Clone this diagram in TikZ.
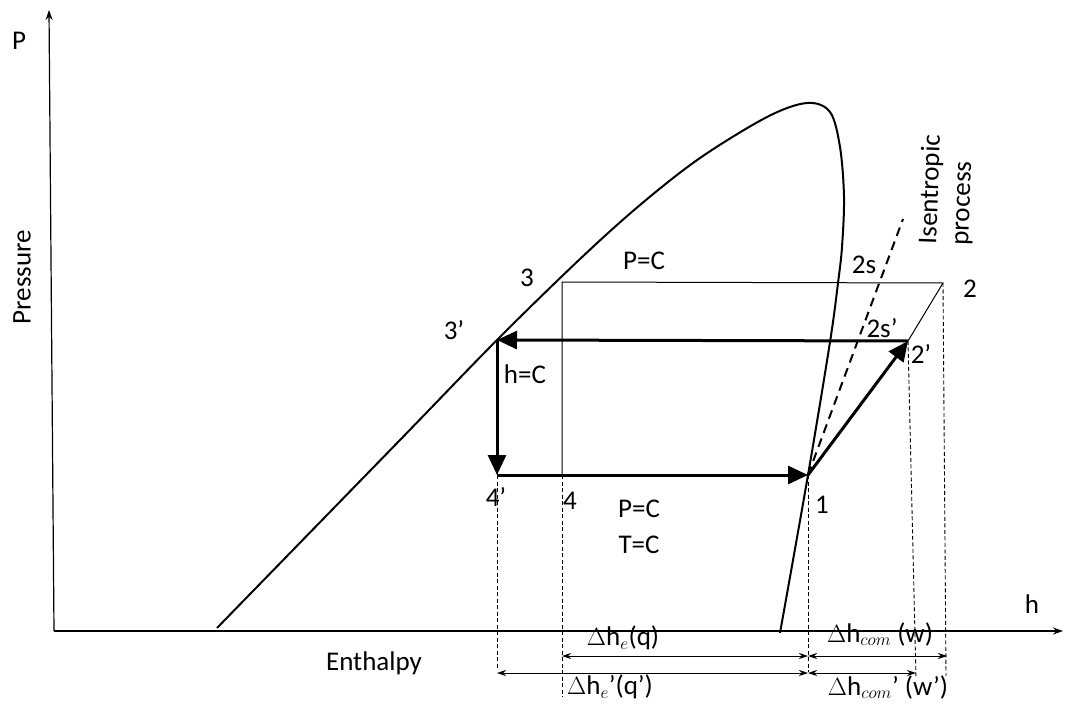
\documentclass[tikz,border=0pt]{standalone}
\usepackage{fontspec}
\setmainfont{Carlito}
\usetikzlibrary{arrows.meta}
\begin{document}
\begin{tikzpicture}[x=1pt,y=-1pt,
  lbl/.style={font=\fontsize{27}{32}\selectfont, inner sep=0pt},
  axis/.style={line width=1.2pt,-{Stealth[length=10pt,width=7pt]}},
  thin/.style={line width=1pt},
  thick/.style={line width=3pt,-{Triangle[length=20pt,width=18pt]}},
  vdash/.style={line width=0.9pt,dash pattern=on 4pt off 2.5pt},
  dim/.style={line width=1pt,{Stealth[length=9pt,width=6pt]}-{Stealth[length=9pt,width=6pt]}},
  dome/.style={line width=2pt}
]
\useasboundingbox (0,0) rectangle (1069,709);

% axes
\coordinate (O) at (54,631);
\coordinate (Ptip) at (49,10);
\coordinate (htip) at (1063,631);
\draw[axis] (O) -- (Ptip);
\draw[axis] (O) -- (htip);

% saturation dome
\draw[dome] plot[smooth,tension=0.55] coordinates {(217,628) (400,440) (497,340) (580,259) (640,205) (700,158) (767,117) (807,103) (830,112) (840,147) (844,197) (842,247) (838,283) (830,342) (808,475) (780,633)};

% state points
\coordinate (p1) at (808,475);
\coordinate (p2) at (943,283);
\coordinate (p2p) at (908,341);
\coordinate (p3) at (562,282);
\coordinate (p3p) at (497,340);
\coordinate (p4) at (562,475);
\coordinate (p4p) at (497,475);
\coordinate (iso) at (903,219);

% ideal cycle (thin)
\draw[thin] (p4) -- (p3) -- (p2) -- (p2p);

% isentropic line
\draw[line width=2pt,dash pattern=on 9pt off 6pt] (p1) -- (iso);

% actual cycle (thick arrows)
\draw[thick] (p2p) -- (p3p);
\draw[thick] (p3p) -- (p4p);
\draw[thick] (p4p) -- (p1);
\draw[thick] (p1) -- (p2p);

% projection lines
\coordinate (d4p) at (497,668);
\coordinate (d4) at (562,697);
\coordinate (d1) at (808,672);
\coordinate (d2p) at (916,678);
\coordinate (d2) at (946,676);
\draw[vdash] (p4p) -- (d4p);
\draw[vdash] (p4) -- (d4);
\draw[vdash] (p1) -- (d1);
\draw[vdash] (p2p) -- (d2p);
\draw[vdash] (p2) -- (d2);

% dimension arrows
\coordinate (a1) at (562,656);
\coordinate (a2) at (808,656);
\coordinate (a3) at (947,656);
\coordinate (b1) at (497,673);
\coordinate (b2) at (808,673);
\coordinate (b3) at (916,673);
\draw[dim] (a1) -- (a2);
\draw[dim] (a2) -- (a3);
\draw[dim] (b1) -- (b2);
\draw[dim] (b2) -- (b3);

% labels
\node[lbl] (lP) at (19,41) {P};
\node[lbl,rotate=90] (lPres) at (22,277) {Pressure};
\node[lbl] (lEnth) at (374,663) {Enthalpy};
\node[lbl] (lh) at (1032,604) {h};
\node[lbl] (l3) at (527,278) {3};
\node[lbl] (l3p) at (454,330) {3’};
\node[lbl] (lPC1) at (644,261) {P=C};
\node[lbl] (l2s) at (864,265) {2s};
\node[lbl] (l2) at (970,289) {2};
\node[lbl] (l2sp) at (882,328) {2s’};
\node[lbl] (l2p) at (921,354) {2’};
\node[lbl] (lhC) at (525,374) {h=C};
\node[lbl] (l4p) at (496,497) {4’};
\node[lbl] (l4) at (570,501) {4};
\node[lbl] (l1) at (822,505) {1};
\node[lbl] (lPC2) at (639,509) {P=C};
\node[lbl] (lTC) at (639,545) {T=C};
\node[lbl,rotate=88,align=left] (liso) at (947,190) {Isentropic\\process};
\node[lbl] (ldhe) at (623,638) {$\Delta\mathrm{h}_{e}$(q)};
\node[lbl] (ldhc) at (880,634) {$\Delta\mathrm{h}_{com}$ (w)};
\node[lbl] (ldhep) at (610,687) {$\Delta\mathrm{h}_{e}$’(q’)};
\node[lbl] (ldhcp) at (888,687) {$\Delta\mathrm{h}_{com}$’ (w’)};
\end{tikzpicture}
\end{document}
